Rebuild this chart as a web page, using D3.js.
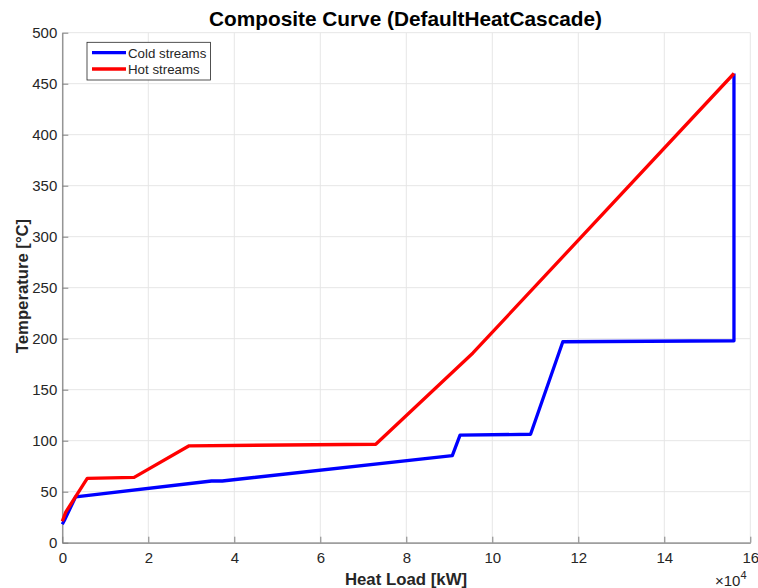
<!DOCTYPE html>
<html>
<head>
<meta charset="utf-8">
<script src="https://cdn.jsdelivr.net/npm/d3@7"></script>
<style>
  body { margin: 0; background: #fff; }
  svg { display: block; font-family: "Liberation Sans", Arial, Helvetica, sans-serif; }
</style>
</head>
<body>
<svg id="chart" width="758" height="588"></svg>
<script>
// Heat load in units of 1e4 kW, temperature in °C
const coldLoad = [0, 0.05, 0.31, 3.47, 3.72, 9.07, 9.25, 10.89, 11.64, 15.62, 15.62];
const coldTemp = [18, 22, 45, 60.5, 60.5, 85.3, 105.5, 106.3, 197, 198, 460];
const hotLoad  = [0, 0.08, 0.58, 1.67, 2.95, 7.29, 9.55, 15.62];
const hotTemp  = [21, 30, 63, 64, 95, 96.5, 186, 460];
const xTicks = [0, 2, 4, 6, 8, 10, 12, 14, 16];
const yTicks = [0, 50, 100, 150, 200, 250, 300, 350, 400, 450, 500];
const seriesNames = ["Cold streams", "Hot streams"];
const seriesColors = ["#0000ff", "#ff0000"];

const svg = d3.select("#chart");
const pLeft = 62.3, pRight = 750.3, pTop = 32.7, pBottom = 542.7;
const x = d3.scaleLinear().domain([0, 16]).range([pLeft, pRight]);
const y = d3.scaleLinear().domain([0, 500]).range([pBottom, pTop]);
const axisColor = "#808080";
const textColor = "#262626";

// grid
const g = svg.append("g");
g.selectAll("line.gx").data(xTicks).join("line")
  .attr("x1", d => x(d)).attr("x2", d => x(d))
  .attr("y1", pTop).attr("y2", pBottom)
  .attr("stroke", "#e6e6e6").attr("stroke-width", 1);
g.selectAll("line.gy").data(yTicks).join("line")
  .attr("y1", d => y(d)).attr("y2", d => y(d))
  .attr("x1", pLeft).attr("x2", pRight)
  .attr("stroke", "#e6e6e6").attr("stroke-width", 1);

// axes
const xAxis = d3.axisBottom(x).tickValues(xTicks).tickSizeInner(-6).tickSizeOuter(0).tickPadding(10).tickFormat(d3.format("d"));
const yAxis = d3.axisLeft(y).tickValues(yTicks).tickSizeInner(-6).tickSizeOuter(0).tickPadding(5).tickFormat(d3.format("d"));
const gx = svg.append("g").attr("transform", `translate(0,${pBottom})`).call(xAxis);
const gy = svg.append("g").attr("transform", `translate(${pLeft},0)`).call(yAxis);
[gx, gy].forEach(a => {
  a.select(".domain").attr("stroke", axisColor).attr("stroke-width", 1.2);
  a.selectAll(".tick line").attr("stroke", axisColor).attr("stroke-width", 1);
  a.selectAll(".tick text").attr("fill", textColor).style("font-size", "15px")
    .style("font-family", '"Liberation Sans", Arial, sans-serif');
});

// lines
const line = d3.line().x(d => x(d[0])).y(d => y(d[1]));
const cold = coldLoad.map((v, i) => [v, coldTemp[i]]);
const hot = hotLoad.map((v, i) => [v, hotTemp[i]]);
svg.append("path").datum(cold).attr("d", line).attr("fill", "none")
  .attr("stroke", seriesColors[0]).attr("stroke-width", 3.3).attr("stroke-linejoin", "round");
svg.append("path").datum(hot).attr("d", line).attr("fill", "none")
  .attr("stroke", seriesColors[1]).attr("stroke-width", 3.3).attr("stroke-linejoin", "round");

// title and labels
svg.append("text").attr("x", 405.5).attr("y", 26).attr("text-anchor", "middle")
  .style("font-size", "20.8px").style("font-weight", "bold").attr("fill", "#000")
  .text("Composite Curve (DefaultHeatCascade)");
svg.append("text").attr("x", 406).attr("y", 585).attr("text-anchor", "middle")
  .style("font-size", "16.8px").style("font-weight", "bold").attr("fill", textColor)
  .text("Heat Load [kW]");
svg.append("text").attr("transform", "translate(28,286) rotate(-90)").attr("text-anchor", "middle")
  .style("font-size", "16.7px").style("font-weight", "bold").attr("fill", textColor)
  .text("Temperature [°C]");
const exp = svg.append("text").attr("x", 715).attr("y", 586).attr("fill", textColor).style("font-size", "15px");
exp.append("tspan").text("×10");
exp.append("tspan").attr("dy", -7).style("font-size", "11px").text("4");

// legend
const lg = svg.append("g");
lg.append("rect").attr("x", 87).attr("y", 42.3).attr("width", 123.5).attr("height", 37.7)
  .attr("fill", "#fff").attr("stroke", "#262626").attr("stroke-width", 0.8);
seriesNames.forEach((n, i) => {
  const yy = 52.7 + i * 16.3;
  lg.append("line").attr("x1", 92).attr("x2", 126).attr("y1", yy).attr("y2", yy)
    .attr("stroke", seriesColors[i]).attr("stroke-width", 3.3);
  lg.append("text").attr("x", 128).attr("y", yy + 5).attr("fill", textColor)
    .style("font-size", "13.3px").text(n);
});
</script>
</body>
</html>
